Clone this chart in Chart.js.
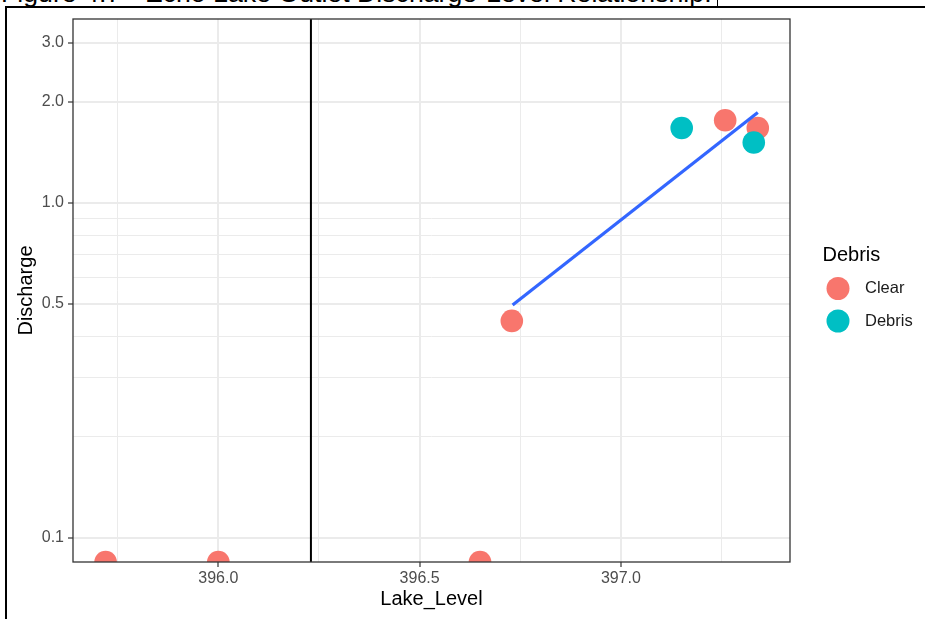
<!DOCTYPE html>
<html>
<head>
<meta charset="utf-8">
<script src="https://cdn.jsdelivr.net/npm/chart.js@4.4.1/dist/chart.umd.min.js"></script>
<style>
  html, body { margin: 0; padding: 0; background: #fff; }
  #wrap { position: relative; width: 925px; height: 619px; overflow: hidden; }
  #caption {
    position: absolute; left: 1px; top: -20.5px;
    font-family: "Liberation Sans", Arial, sans-serif; font-size: 26.7px; line-height: 27px;
    white-space: nowrap; color: #000;
  }
  #capRule { position: absolute; left: 717px; top: 0; width: 1px; height: 7px; background: #000; }
  #frameTop { position: absolute; left: 5px; top: 6px; width: 920px; height: 2px; background: #000; }
  #frameLeft { position: absolute; left: 5px; top: 6px; width: 2px; height: 613px; background: #000; }
  #grafico { position: absolute; left: 0; top: 0; }
</style>
</head>
<body>
<div id="wrap">
  <div id="caption">Figure 4.7 - Echo Lake Outlet Discharge-Level Relationship.</div>
  <div id="capRule"></div>
  <div id="frameTop"></div>
  <div id="frameLeft"></div>
  <canvas id="grafico" width="925" height="619"></canvas>
</div>
<script>
// ---- DATOS ----
const levelTicks = [396.0, 396.5, 397.0];
const levelMinor = [395.75, 396.25, 396.75, 397.25];
const dischargeTicks = [0.1, 0.5, 1.0, 2.0, 3.0];
const dischargeMinor = [0.2, 0.3, 0.4, 0.6, 0.7, 0.8, 0.9];

const levelRange = [395.639, 397.42];
const dischargeRange = [0.0846, 3.54];

// Discharge 0 sits on the bottom edge of the log axis
const clearLevel = [395.72, 396.0, 396.65, 396.729, 397.259, 397.340];
const clearDischarge = [0, 0, 0, 0.444, 1.765, 1.673];
const debrisLevel = [397.151, 397.330];
const debrisDischarge = [1.673, 1.514];

// lm fit (log scale) over the non-zero readings
const fitLevel = [396.731, 397.340];
const fitDischarge = [0.495, 1.860];

const cutLevel = 396.23;

const FONT = '"Liberation Sans", Arial, sans-serif';
Chart.defaults.font.family = FONT;

const toPoints = (xs, ys) => xs.map((x, i) => ({ x: x, y: ys[i] > 0 ? ys[i] : dischargeRange[0] }));

// ---- PLUGINS ----
const panelBorder = {
  id: "panelBorder",
  afterDatasetsDraw(chart) {
    const { ctx, chartArea: a } = chart;
    ctx.save();
    ctx.strokeStyle = "#333333";
    ctx.lineWidth = 1.3;
    ctx.strokeRect(a.left, a.top, a.right - a.left, a.bottom - a.top);
    ctx.restore();
  }
};

const leyenda = {
  id: "leyenda",
  afterDraw(chart) {
    const ctx = chart.ctx;
    ctx.save();
    ctx.textBaseline = "middle";
    ctx.textAlign = "left";
    ctx.fillStyle = "#000";
    ctx.font = "20px " + FONT;
    ctx.fillText("Debris", 822.5, 255);
    const items = chart.data.datasets.filter(d => d.enLeyenda);
    items.forEach((d, i) => {
      const y = 288.5 + i * 32.5;
      ctx.beginPath();
      ctx.arc(838, y, 11.5, 0, Math.PI * 2);
      ctx.fillStyle = d.backgroundColor;
      ctx.fill();
      ctx.fillStyle = "#1a1a1a";
      ctx.font = "16.5px " + FONT;
      ctx.fillText(d.label, 865, y);
    });
    ctx.restore();
  }
};

// ---- GRÁFICO ----
const ctx = document.getElementById("grafico").getContext("2d");
const grafico = new Chart(ctx, {
  type: "scatter",
  data: {
    datasets: [
      {
        label: "Clear",
        enLeyenda: true,
        data: toPoints(clearLevel, clearDischarge),
        backgroundColor: "#F8766D",
        borderWidth: 0,
        pointRadius: 11.3,
        pointHoverRadius: 11.3,
        clip: 0,
        order: 3
      },
      {
        label: "Debris",
        enLeyenda: true,
        data: toPoints(debrisLevel, debrisDischarge),
        backgroundColor: "#00BFC4",
        borderWidth: 0,
        pointRadius: 11.3,
        pointHoverRadius: 11.3,
        clip: 0,
        order: 2
      },
      {
        label: "fit",
        data: toPoints(fitLevel, fitDischarge),
        showLine: true,
        borderColor: "#3366FF",
        borderWidth: 3.2,
        pointRadius: 0,
        clip: 0,
        order: 1
      },
      {
        label: "cut",
        data: [{ x: cutLevel, y: dischargeRange[0] }, { x: cutLevel, y: dischargeRange[1] }],
        showLine: true,
        borderColor: "#000000",
        borderWidth: 2,
        pointRadius: 0,
        clip: 0,
        order: 4
      }
    ]
  },
  options: {
    responsive: false,
    animation: false,
    events: [],
    layout: { padding: { top: 19, right: 135, bottom: 0, left: 0 } },
    plugins: {
      legend: { display: false },
      tooltip: { enabled: false }
    },
    scales: {
      x: {
        type: "linear",
        bounds: "data",
        min: levelRange[0],
        max: levelRange[1],
        afterBuildTicks: s => {
          s.ticks = levelTicks.concat(levelMinor).sort((a, b) => a - b).map(v => ({ value: v }));
        },
        afterFit: s => { s.height = 57; },
        ticks: {
          autoSkip: false,
          maxRotation: 0,
          padding: 2,
          color: "#4D4D4D",
          font: { size: 16 },
          callback: v => levelTicks.includes(v) ? v.toFixed(1) : ""
        },
        grid: {
          color: "#EBEBEB",
          lineWidth: c => levelTicks.includes(c.tick.value) ? 2 : 1,
          tickLength: 5,
          tickWidth: 1.2,
          tickColor: c => levelTicks.includes(c.tick.value) ? "#333333" : "rgba(0,0,0,0)"
        },
        border: { display: false },
        title: {
          display: true,
          text: "Lake_Level",
          color: "#000",
          font: { size: 20 },
          padding: { top: 0, bottom: 7.5 }
        }
      },
      y: {
        type: "logarithmic",
        bounds: "data",
        min: dischargeRange[0],
        max: dischargeRange[1],
        afterBuildTicks: s => {
          s.ticks = dischargeTicks.concat(dischargeMinor).sort((a, b) => a - b).map(v => ({ value: v }));
        },
        afterFit: s => { s.width = 73; },
        ticks: {
          autoSkip: false,
          padding: 4,
          color: "#4D4D4D",
          font: { size: 16 },
          callback: v => dischargeTicks.includes(v) ? v.toFixed(1) : ""
        },
        grid: {
          color: "#EBEBEB",
          lineWidth: c => dischargeTicks.includes(c.tick.value) ? 2 : 1,
          tickLength: 5,
          tickWidth: 1.2,
          tickColor: c => dischargeTicks.includes(c.tick.value) ? "#333333" : "rgba(0,0,0,0)"
        },
        border: { display: false },
        title: {
          display: true,
          text: "Discharge",
          color: "#000",
          font: { size: 20 },
          padding: { top: 14, bottom: 0 }
        }
      }
    }
  },
  plugins: [panelBorder, leyenda]
});
</script>
</body>
</html>
